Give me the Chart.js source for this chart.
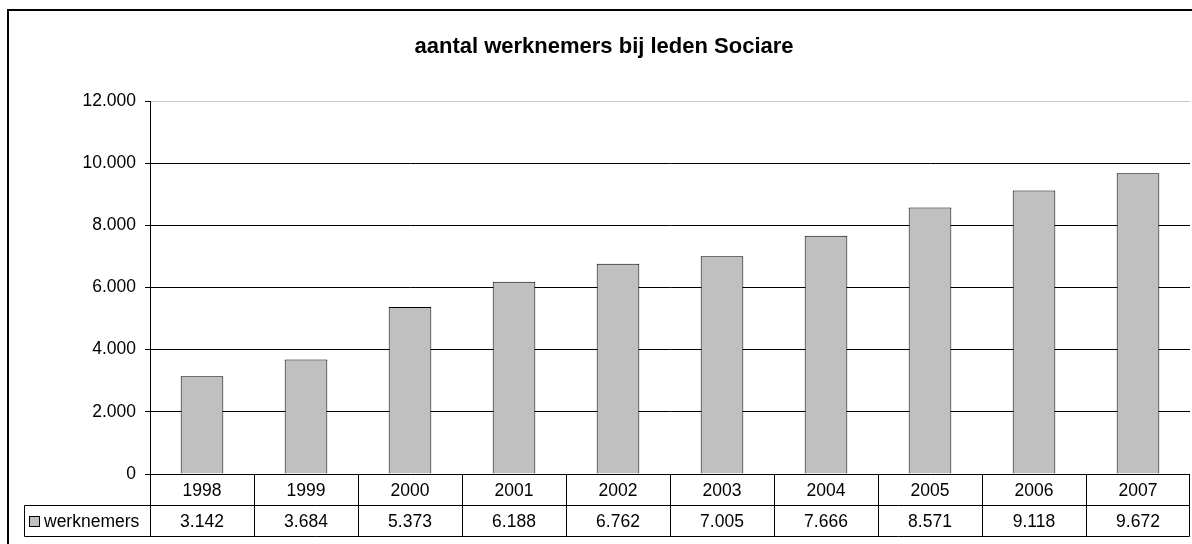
<!DOCTYPE html>
<html>
<head>
<meta charset="utf-8">
<script src="https://cdn.jsdelivr.net/npm/chart.js@4.4.1/dist/chart.umd.min.js"></script>
<style>
  html, body { margin: 0; padding: 0; background: #fff; }
  #wrap { width: 1192px; height: 544px; position: relative; }
</style>
</head>
<body>
<div id="wrap"><canvas id="c" width="1192" height="544"></canvas></div>
<script>
const chartTitle = 'aantal werknemers bij leden Sociare';
const years = ['1998', '1999', '2000', '2001', '2002', '2003', '2004', '2005', '2006', '2007'];
const seriesName = 'werknemers';
const werknemers = [3142, 3684, 5373, 6188, 6762, 7005, 7666, 8571, 9118, 9672];
const yTicks = [0, 2000, 4000, 6000, 8000, 10000, 12000];

const FONT = 'Arial, "Liberation Sans", sans-serif';
function fmt(v) { return String(v).replace(/\B(?=(\d{3})+(?!\d))/g, '.'); }

const frame = {
  id: 'frame',
  afterDraw(chart) {
    const c = chart.ctx;
    c.save();
    c.strokeStyle = '#000';
    c.lineWidth = 2;
    c.beginPath();
    c.moveTo(8, 544); c.lineTo(8, 10); c.lineTo(1192, 10);
    c.stroke();
    c.restore();
  }
};

const dataTable = {
  id: 'dataTable',
  afterDraw(chart) {
    const c = chart.ctx;
    const x = chart.scales.x;
    const area = chart.chartArea;
    const top = area.bottom;
    const mid = top + 31.5;
    const bot = top + 62.5;
    const legLeft = 24.5;
    const n = years.length;
    const step = (x.getPixelForValue(1) - x.getPixelForValue(0));
    const L = Math.round(x.getPixelForValue(0) - step / 2) + 0.5;
    const R = Math.round(x.getPixelForValue(n - 1) + step / 2) - 0.5;
    c.save();
    c.strokeStyle = '#000';
    c.lineWidth = 1;
    c.beginPath();
    c.moveTo(legLeft, mid); c.lineTo(R, mid);
    c.moveTo(legLeft, bot); c.lineTo(R, bot);
    c.moveTo(legLeft, mid); c.lineTo(legLeft, bot);
    for (let i = 0; i <= n; i++) {
      let px = i === n ? R : Math.round(x.getPixelForValue(i) - step / 2) + 0.5;
      if (i === 0) px = L;
      c.moveTo(px, top); c.lineTo(px, bot);
    }
    c.stroke();
    c.fillStyle = '#000';
    c.font = '17.5px ' + FONT;
    c.textAlign = 'center';
    c.textBaseline = 'middle';
    for (let i = 0; i < n; i++) {
      const cx = x.getPixelForValue(i);
      c.fillText(years[i], cx, (top + mid) / 2 + 1);
      c.fillText(fmt(werknemers[i]), cx, (mid + bot) / 2 + 1);
    }
    c.fillStyle = '#c0c0c0';
    c.fillRect(29.5, 516.5, 10, 10);
    c.strokeStyle = '#000';
    c.strokeRect(29.5, 516.5, 10, 10);
    c.fillStyle = '#000';
    c.textAlign = 'left';
    c.fillText(seriesName, 44, (mid + bot) / 2 + 1);
    c.restore();
  }
};

new Chart(document.getElementById('c'), {
  type: 'bar',
  data: {
    labels: years,
    datasets: [{
      label: seriesName,
      data: werknemers,
      backgroundColor: '#c0c0c0',
      borderColor: '#000',
      borderWidth: 1,
      barPercentage: 0.41,
      categoryPercentage: 1.0
    }]
  },
  options: {
    responsive: false,
    devicePixelRatio: 1,
    animation: false,
    layout: { padding: { left: 18, right: 2, top: 0, bottom: 0 } },
    plugins: {
      legend: { display: false },
      tooltip: { enabled: false },
      title: {
        display: true,
        text: chartTitle,
        color: '#000',
        font: { family: FONT, size: 22, weight: 'bold' },
        padding: { top: 34, bottom: 40.6 }
      }
    },
    scales: {
      x: {
        grid: { display: false },
        border: { display: false },
        ticks: { display: false },
        afterFit(s) { s.height = 70; }
      },
      y: {
        min: 0,
        max: 12000,
        afterFit(s) { s.width = 132; },
        afterBuildTicks(s) { s.ticks = yTicks.map(v => ({ value: v })); },
        ticks: {
          color: '#000',
          padding: 9,
          font: { family: FONT, size: 17.5 },
          callback: (v) => fmt(v)
        },
        grid: {
          color: (ctx) => (ctx.tick && ctx.tick.value === 12000) ? '#c8c8c8' : '#000',
          tickColor: '#000',
          tickLength: 5,
          lineWidth: 1
        },
        border: { display: true, color: '#000', width: 1 }
      }
    }
  },
  plugins: [frame, dataTable]
});
</script>
</body>
</html>
